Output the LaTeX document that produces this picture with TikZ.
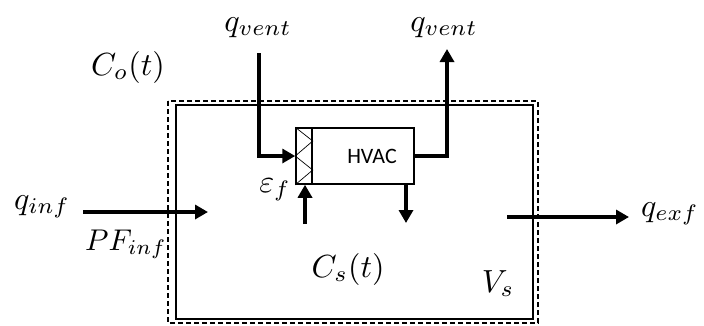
\documentclass[tikz,border=0pt]{standalone}
\usepackage{fontspec}
\newfontfamily\hvacfont{Carlito}
\usepackage{graphicx}
\usetikzlibrary{arrows.meta,calc}
\newcommand{\mylbl}[1]{\scalebox{3.2}{$#1$}}
\begin{document}
\begin{tikzpicture}[x=1pt,y=-1pt,
  flow/.style={line width=4.5pt,-{Triangle[length=13pt,width=14pt]},line join=miter},
  lbl/.style={inner sep=0pt},
  boxline/.style={draw,line width=1.5pt,inner sep=0pt}]
\useasboundingbox (0,0) rectangle (704,325);
% walls
\draw[line width=1.2pt,dash pattern=on 5pt off 3pt] (168,101) rectangle (538,323);
\draw[line width=1.5pt] (176,105) rectangle (533,319);
% HVAC unit
\node[boxline,minimum width=16pt,minimum height=56pt] (filt) at (304,156) {};
\node[boxline,minimum width=102pt,minimum height=56pt] (hvac) at (363,156) {};
\node[inner sep=0pt,anchor=base,font=\hvacfont\fontsize{22}{24}\selectfont] (hvactxt) at (372,163) {HVAC};
\draw[line width=0.7pt] (filt.north west) -- ($(filt.east)+(0,-15)$) -- (filt.west) -- ($(filt.east)+(0,14)$) -- (filt.south west);
% ventilation in/out
\coordinate (vin) at (259,53);
\coordinate (vout) at (447,49);
\draw[flow] (vin) |- (filt.west);
\draw[flow] (hvac.east) -| (vout);
\coordinate (upstart) at (305,224);
\coordinate (dnend) at (406,223);
\draw[flow] (upstart) -- (upstart |- filt.south);
\draw[flow] (dnend |- hvac.south) -- (dnend);
% infiltration / exfiltration
\coordinate (infa) at (83,212);
\coordinate (infb) at (208,212);
\coordinate (exfa) at (507,217);
\coordinate (exfb) at (629,217);
\draw[flow] (infa) -- (infb);
\draw[flow] (exfa) -- (exfb);
% labels
\node[lbl,anchor=base] (qv1) at (258,31) {\mylbl{q_{vent}}};
\node[lbl,anchor=base] (qv2) at (444,31) {\mylbl{q_{vent}}};
\node[lbl,anchor=base] (co) at (128,75) {\mylbl{C_o(t)}};
\node[lbl,anchor=base east] (ef) at (291,192) {\mylbl{\varepsilon_f}};
\node[lbl,anchor=base west] (qinf) at (14,209) {\mylbl{q_{inf}}};
\node[lbl,anchor=base west] (pf) at (85,250) {\scalebox{3.0}{$PF_{inf}$}};
\node[lbl,anchor=base west] (qexf) at (641,216) {\mylbl{q_{exf}}};
\node[lbl,anchor=base] (cs) at (348,277) {\mylbl{C_s(t)}};
\node[lbl,anchor=base] (vs) at (498,292) {\mylbl{V_s}};
\end{tikzpicture}
\end{document}
